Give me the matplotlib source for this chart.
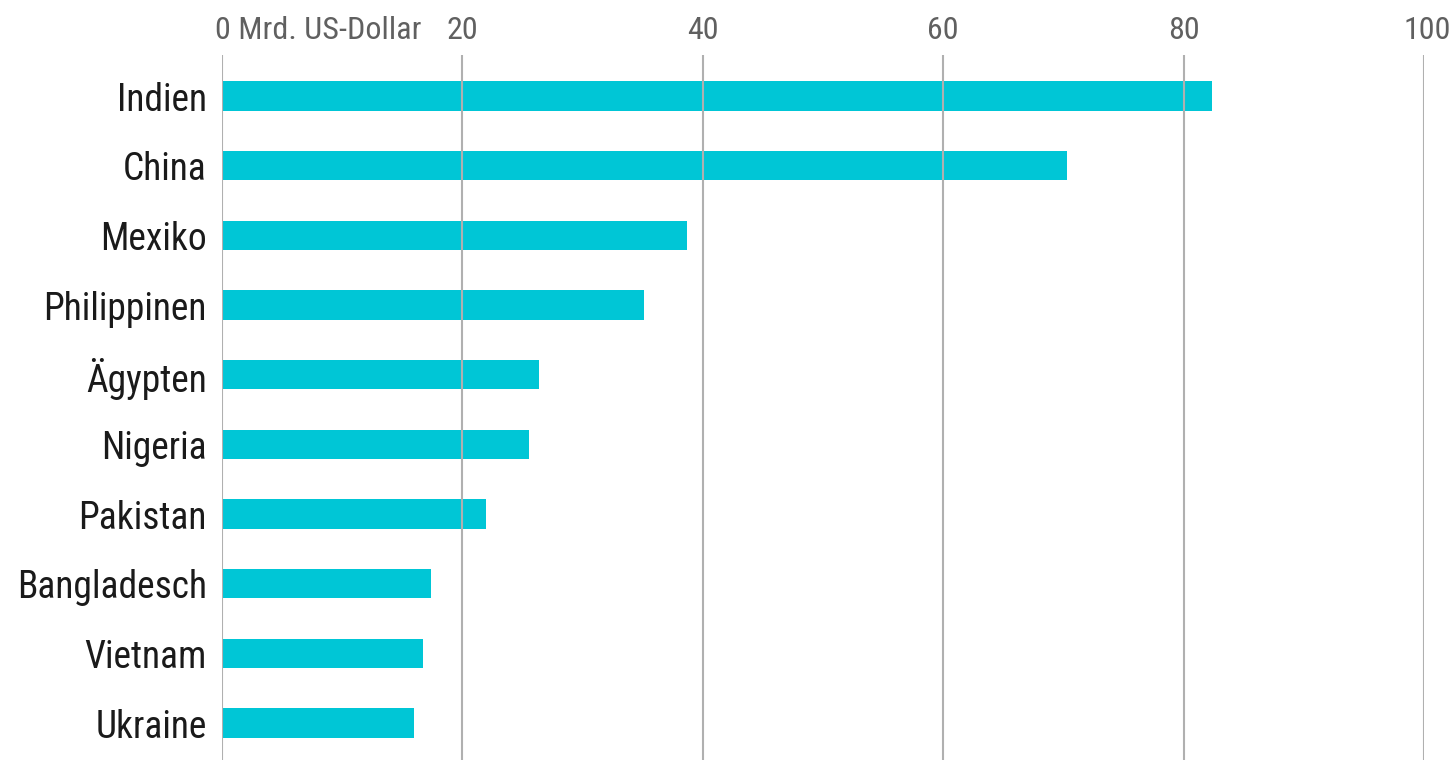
import matplotlib.pyplot as plt
import matplotlib.transforms as mtransforms
from matplotlib import font_manager

# Rücküberweisungen, Mrd. US-Dollar
countries = ["Indien", "China", "Mexiko", "Philippinen", "Ägypten",
             "Nigeria", "Pakistan", "Bangladesch", "Vietnam", "Ukraine"]
values = [82.4, 70.3, 38.7, 35.1, 26.4, 25.5, 22.0, 17.4, 16.7, 16.0]
ticks = [0, 20, 40, 60, 80, 100]
tick_labels = ["0 Mrd. US-Dollar", "20", "40", "60", "80", "100"]

names = {f.name for f in font_manager.fontManager.ttflist}
fam = "DejaVu Sans"
for cand in ["Roboto Condensed", "Liberation Sans Narrow", "Open Sans Condensed",
             "DejaVu Sans Condensed", "Roboto"]:
    if cand in names:
        fam = cand
        break
plt.rcParams['font.family'] = [fam, 'DejaVu Sans']
condensed = fam in ("Roboto Condensed", "Liberation Sans Narrow",
                    "Open Sans Condensed", "DejaVu Sans Condensed")
ysize = 27 if condensed else 22
xsize = 23 if condensed else 18

fig = plt.figure(figsize=(14.52, 7.6), dpi=100)
ax = fig.add_axes([222 / 1452, 0, (1424 - 222) / 1452, 705 / 760])

ypos = list(range(len(countries)))
ax.barh(ypos, values, height=0.42, color="#00c6d6", zorder=1)

ax.set_xlim(0, 100)
ax.set_ylim(9.53, -0.59)
ax.xaxis.tick_top()
ax.set_xticks(ticks)
ax.set_xticklabels(tick_labels, fontsize=xsize, color="#606060")
ax.tick_params(axis="x", length=0, pad=7)
ax.set_yticks(ypos)
ax.set_yticklabels(countries, fontsize=ysize, color="#1a1a1a")
ax.tick_params(axis="y", length=0, pad=11)

# first label left-aligned starting just left of zero
lab0 = ax.get_xticklabels()[0]
lab0.set_horizontalalignment("left")
lab0.set_transform(lab0.get_transform() + mtransforms.ScaledTranslation(-7 / 100, 0, fig.dpi_scale_trans))
# last label pulled in a little so it stays on the canvas
labn = ax.get_xticklabels()[-1]
labn.set_horizontalalignment("right")
labn.set_transform(labn.get_transform() + mtransforms.ScaledTranslation(27 / 100, 0, fig.dpi_scale_trans))

for t in ticks:
    ax.axvline(t, color="#b0b0b0", linewidth=1.5, zorder=2)

for s in ax.spines.values():
    s.set_visible(False)

fig.savefig("out.png", dpi=100)
